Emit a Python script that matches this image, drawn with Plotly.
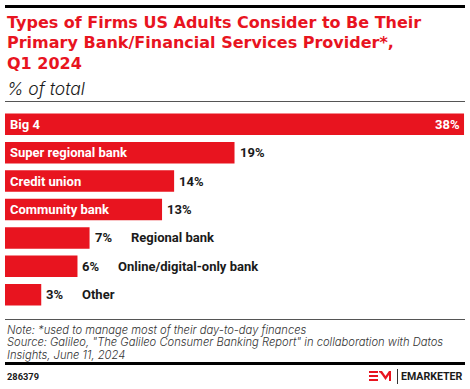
import plotly.graph_objects as go

categories = ["Big 4", "Super regional bank", "Credit union", "Community bank",
              "Regional bank", "Online/digital-only bank", "Other"]
values = [38, 19, 14, 13, 7, 6, 3]
value_labels = ["38%", "19%", "14%", "13%", "7%", "6%", "3%"]

title_lines = ["Types of Firms US Adults Consider to Be Their",
               "Primary Bank/Financial Services Provider*,",
               "Q1 2024"]
subtitle = "% of total"
note_lines = ["Note: *used to manage most of their day-to-day finances",
              "Source: Galileo, \"The Galileo Consumer Banking Report\" in collaboration with Datos",
              "Insights, June 11, 2024"]
chart_id = "286379"

RED = "#E8141F"
DARK = "#1A1A1A"
TITLE_FONT = "DejaVu Sans"
LABEL_FONT = "Roboto"
NOTE_FONT = "Inter"

W, H = 470, 389
T, B, L, R = 110, 80, 5, 5
PH = H - T - B
PW = W - L - R


def py(ypix):
    return (H - B - ypix) / PH


def px(xpix):
    return (xpix - L) / PW


fig = go.Figure()
fig.add_trace(go.Bar(
    x=values, y=categories, orientation="h",
    marker=dict(color=RED, line=dict(width=0)),
    hoverinfo="skip",
))

ann = []
maxv = max(values)
for c, v, lab in zip(categories, values, value_labels):
    inside = v >= 10
    if inside:
        ann.append(dict(x=0, y=c, xref="x", yref="y", text=c, showarrow=False,
                        xanchor="left", yanchor="middle", xshift=3,
                        font=dict(family=LABEL_FONT, size=13, color="white", weight="bold")))
    if v == maxv:
        ann.append(dict(x=v, y=c, xref="x", yref="y", text=lab, showarrow=False,
                        xanchor="right", yanchor="middle", xshift=-2,
                        font=dict(family=LABEL_FONT, size=13, color="white", weight="bold")))
    else:
        ann.append(dict(x=v, y=c, xref="x", yref="y", text=lab, showarrow=False,
                        xanchor="left", yanchor="middle", xshift=3,
                        font=dict(family=LABEL_FONT, size=13, color=DARK, weight="bold")))
    if not inside:
        ann.append(dict(x=v, y=c, xref="x", yref="y", text=c, showarrow=False,
                        xanchor="left", yanchor="middle", xshift=39,
                        font=dict(family=LABEL_FONT, size=13, color=DARK, weight="bold")))

# title lines
for i, t in enumerate(title_lines):
    ann.append(dict(x=0, y=py(22.3 + 20.6 * i), xref="paper", yref="paper", text=t,
                    showarrow=False, xanchor="left", yanchor="middle",
                    font=dict(family=TITLE_FONT, size=16, color=RED, weight="bold")))
ann.append(dict(x=0, y=py(88), xref="paper", yref="paper", text="<i>" + subtitle + "</i>",
                showarrow=False, xanchor="left", yanchor="middle",
                font=dict(family=NOTE_FONT, size=17.5, color=DARK, weight=300)))
for i, t in enumerate(note_lines):
    ann.append(dict(x=0, y=py(330.3 + 12.1 * i), xref="paper", yref="paper", text="<i>" + t + "</i>",
                    showarrow=False, xanchor="left", yanchor="middle",
                    font=dict(family=NOTE_FONT, size=11.2, color="#333333", weight=300)))
ann.append(dict(x=0, y=py(376.7), xref="paper", yref="paper", text=chart_id,
                showarrow=False, xanchor="left", yanchor="middle",
                font=dict(family=LABEL_FONT, size=9.3, color=DARK, weight="bold")))
ann.append(dict(x=1, y=py(376), xref="paper", yref="paper", text="EMARKETER",
                showarrow=False, xanchor="right", yanchor="middle", xshift=0,
                font=dict(family=LABEL_FONT, size=10.6, color=DARK, weight="bold")))

shapes = [
    dict(type="line", xref="paper", yref="paper", x0=0, x1=1, y0=py(6.5), y1=py(6.5),
         line=dict(color="black", width=3)),
    dict(type="line", xref="paper", yref="paper", x0=0, x1=1, y0=py(101.5), y1=py(101.5),
         line=dict(color="#555555", width=1)),
    dict(type="line", xref="paper", yref="paper", x0=0, x1=1, y0=py(319.5), y1=py(319.5),
         line=dict(color="#555555", width=1)),
    dict(type="line", xref="paper", yref="paper", x0=0, x1=1, y0=py(363.5), y1=py(363.5),
         line=dict(color="black", width=3)),
    dict(type="line", xref="paper", yref="paper", x0=px(397.5), x1=px(397.5),
         y0=py(369), y1=py(384), line=dict(color="#333333", width=1)),
]


def path(pts):
    return "M " + " L ".join(f"{px(a)},{py(b)}" for a, b in pts) + " Z"


logo = [
    [(369, 371), (378, 371), (378, 373), (369, 373)],
    [(369, 375), (378, 375), (378, 377), (369, 377)],
    [(369, 379), (378, 379), (378, 381), (369, 381)],
    [(379, 371), (382, 371), (385.5, 376), (389, 371), (391, 371), (391, 381), (389, 381),
     (389, 375), (385.5, 380), (382, 375), (380, 372.5), (379, 372.5)],
]
for p in logo:
    shapes.append(dict(type="path", xref="paper", yref="paper", path=path(p),
                       fillcolor=RED, line=dict(width=0)))

fig.update_layout(
    width=W, height=H,
    margin=dict(l=L, r=R, t=T, b=B, pad=0),
    paper_bgcolor="white", plot_bgcolor="white",
    showlegend=False, bargap=0.243,
    xaxis=dict(range=[0, 38.08], visible=False, fixedrange=True),
    yaxis=dict(autorange=False, range=[6.5, -0.5], visible=False, fixedrange=True,
               categoryorder="array", categoryarray=categories),
    annotations=ann, shapes=shapes,
)
fig.write_html("out.html", config={"displayModeBar": False},
               post_script="document.body.style.margin='0';")
